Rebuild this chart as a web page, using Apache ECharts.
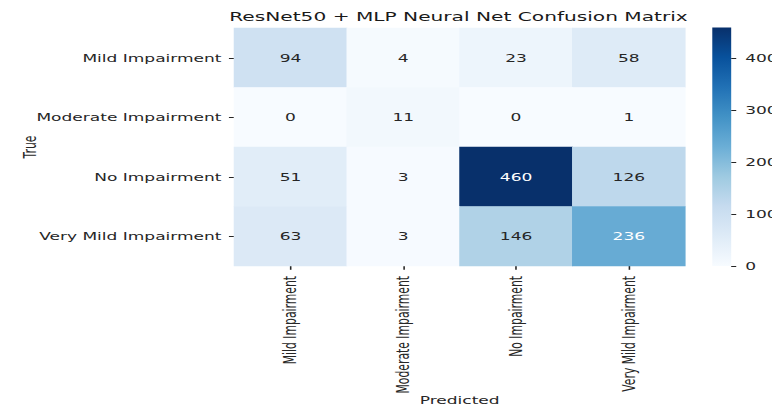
<!DOCTYPE html>
<html>
<head>
<meta charset="utf-8">
<title>ResNet50 + MLP Neural Net Confusion Matrix</title>
<script src="https://cdn.jsdelivr.net/npm/echarts@6/dist/echarts.min.js"></script>
<style>
  html, body { margin: 0; padding: 0; background: #ffffff; overflow: hidden; }
  /* The figure is laid out narrow and widened horizontally, like a stretched matplotlib export */
  #chart { width: 490px; height: 408px; transform: scaleX(1.5755); transform-origin: 0 0; }
</style>
</head>
<body>
<div id="chart"></div>
<script>
// Class names on both axes
const classNames = ['Mild Impairment', 'Moderate Impairment', 'No Impairment', 'Very Mild Impairment'];

// Confusion counts, one array per true class (columns = predicted class)
const rowMild = [94, 4, 23, 58];
const rowModerate = [0, 11, 0, 1];
const rowNone = [51, 3, 460, 126];
const rowVeryMild = [63, 3, 146, 236];
const countRows = [rowMild, rowModerate, rowNone, rowVeryMild];

// Colour bar range and its tick step
const colorMin = 0;
const colorMax = 460;
const colorbarStep = 100;

// matplotlib "Blues" colour map stops
const blues = ['#f7fbff', '#deebf7', '#c6dbef', '#9ecae1', '#6baed6', '#4292c6', '#2171b5', '#08519c', '#08306b'];

const FONT = 'DejaVu Sans';
const TEXT = '#262626';

const cells = [];
countRows.forEach((row, yi) => {
  row.forEach((v, xi) => {
    cells.push({
      value: [xi, yi, v],
      label: { color: v > (colorMax - colorMin) * 0.45 ? '#ffffff' : TEXT }
    });
  });
});

// Vertical gradient for the colour bar, low values at the bottom
const colorbarGradient = new echarts.graphic.LinearGradient(0, 1, 0, 0,
  blues.map((c, i) => ({ offset: i / (blues.length - 1), color: c })));

const chart = echarts.init(document.getElementById('chart'), null, { renderer: 'svg' });

chart.setOption({
  animation: false,
  backgroundColor: '#ffffff',
  textStyle: { fontFamily: FONT },
  title: {
    text: 'ResNet50 + MLP Neural Net Confusion Matrix',
    left: 145.5,
    top: 10,
    padding: 0,
    textStyle: { fontFamily: FONT, fontSize: 12.8, fontWeight: 'normal', color: '#1a1a1a' }
  },
  grid: [
    { left: 148.6, top: 28, width: 286.3, height: 238, outerBoundsMode: 'none' },
    { left: 452.1, top: 27.5, width: 12, height: 238.5, outerBoundsMode: 'none' }
  ],
  xAxis: [
    {
      type: 'category',
      gridIndex: 0,
      data: classNames,
      position: 'bottom',
      name: 'Predicted',
      nameLocation: 'middle',
      nameGap: 129,
      nameMoveOverlap: false,
      nameTextStyle: { fontFamily: FONT, fontSize: 10.8, color: TEXT },
      axisLine: { show: false },
      axisTick: { show: true, alignWithLabel: true, length: 3.8, lineStyle: { color: TEXT, width: 1 } },
      axisLabel: { rotate: 90, margin: 10, fontFamily: FONT, fontSize: 10.8, color: TEXT },
      splitLine: { show: false },
      splitArea: { show: false }
    },
    {
      type: 'category',
      gridIndex: 1,
      data: ['colorbar'],
      show: false,
      boundaryGap: true
    }
  ],
  yAxis: [
    {
      type: 'category',
      gridIndex: 0,
      data: classNames,
      inverse: true,
      name: 'True',
      nameLocation: 'middle',
      nameGap: 124,
      nameRotate: 90,
      nameMoveOverlap: false,
      nameTextStyle: { fontFamily: FONT, fontSize: 10.8, color: TEXT },
      axisLine: { show: false },
      axisTick: { show: true, alignWithLabel: true, length: 3.3, lineStyle: { color: TEXT, width: 1 } },
      axisLabel: { margin: 8, fontFamily: FONT, fontSize: 10.8, color: TEXT },
      splitLine: { show: false },
      splitArea: { show: false }
    },
    {
      type: 'value',
      gridIndex: 1,
      position: 'right',
      min: colorMin,
      max: colorMax,
      interval: colorbarStep,
      axisLine: { show: false },
      axisTick: { show: true, length: 3.2, lineStyle: { color: TEXT, width: 1 } },
      axisLabel: { margin: 8.9, showMaxLabel: false, fontFamily: FONT, fontSize: 10.8, color: TEXT },
      splitLine: { show: false }
    }
  ],
  visualMap: {
    type: 'continuous',
    show: false,
    seriesIndex: 0,
    min: colorMin,
    max: colorMax,
    inRange: { color: blues }
  },
  series: [
    {
      type: 'heatmap',
      xAxisIndex: 0,
      yAxisIndex: 0,
      data: cells,
      label: { show: true, fontFamily: FONT, fontSize: 10.8 },
      itemStyle: { borderWidth: 0 },
      emphasis: { disabled: true }
    },
    {
      // colour bar: one full-height bar filled with the colour map
      type: 'bar',
      xAxisIndex: 1,
      yAxisIndex: 1,
      data: [colorMax],
      barWidth: '100%',
      silent: true,
      itemStyle: { color: colorbarGradient },
      emphasis: { disabled: true }
    }
  ]
});
</script>
</body>
</html>
